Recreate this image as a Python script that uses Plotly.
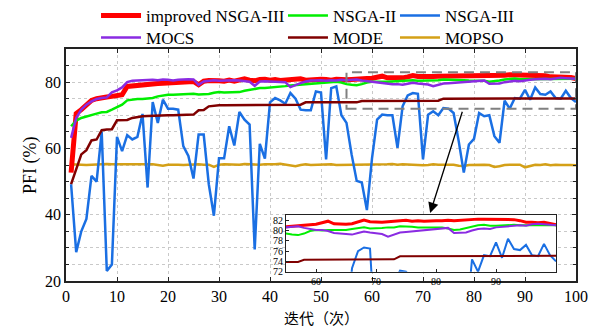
import plotly.graph_objects as go

# ---------------- data ----------------
iters = list(range(1, 101))

improved_nsga3 = [52.7, 70.5, 71.7, 73.2, 74.5, 75.0, 75.4, 75.5, 75.7, 75.9,
                  76.2, 78.7, 78.9, 79.0, 79.2, 79.3, 79.5, 79.6, 79.7, 79.8,
                  79.9, 80.0, 80.0, 80.1, 80.2, 79.2, 80.3, 80.5, 80.3, 80.4,
                  80.3, 80.6, 80.3, 80.5, 81.0, 80.6, 80.4, 80.8, 80.9, 80.6,
                  80.8, 80.5, 80.6, 80.9, 80.7, 81.0, 80.6, 80.8, 80.7, 80.9,
                  80.8, 80.6, 80.9, 80.7, 80.7, 80.8, 80.8, 80.9, 81.1, 81.2,
                  81.5, 81.8, 81.3, 81.2, 81.2, 81.3, 81.6, 82.0, 81.7, 81.6,
                  81.6, 81.7, 81.8, 81.8, 82.0, 81.8, 81.9, 81.8, 81.9, 81.9,
                  81.9, 82.0, 81.9, 82.0, 82.1, 82.1, 82.2, 82.2, 82.2, 82.2,
                  82.2, 82.1, 82.1, 81.9, 81.6, 81.6, 81.5, 81.6, 81.4, 81.1]

nsga2 = [66.7, 68.4, 69.2, 69.7, 70.2, 70.5, 70.9, 71.0, 71.7, 72.5,
         73.2, 74.5, 74.8, 74.9, 74.9, 75.0, 75.2, 75.7, 76.0, 76.2,
         76.2, 76.3, 76.2, 76.4, 76.5, 76.3, 76.4, 76.4, 76.8, 77.0,
         76.9, 77.0, 77.0, 77.0, 77.4, 77.7, 78.0, 78.2, 78.2, 78.3,
         78.4, 78.6, 78.8, 79.0, 79.1, 79.3, 79.4, 79.5, 79.6, 79.7,
         79.8, 80.0, 80.1, 79.9, 79.4, 79.2, 79.1, 79.4, 79.9, 80.1,
         80.0, 80.1, 80.1, 80.2, 80.1, 80.3, 80.5, 80.6, 80.4, 80.4,
         80.5, 80.6, 80.6, 80.8, 80.8, 80.7, 80.6, 80.6, 80.5, 80.5,
         80.6, 80.4, 80.1, 80.2, 80.5, 80.8, 81.0, 81.1, 80.9, 80.9,
         81.0, 81.1, 81.1, 81.0, 81.0, 81.0, 81.0, 81.0, 81.0, 81.0]

nsga3 = [49.2, 28.7, 35.0, 38.7, 51.7, 50.0, 65.0, 23.0, 25.0, 63.5,
         59.2, 64.0, 62.7, 63.5, 70.4, 48.2, 74.0, 67.7, 74.7, 72.0,
         72.0, 71.7, 60.7, 57.7, 50.9, 64.2, 64.2, 49.2, 39.7, 57.0,
         57.0, 66.7, 60.9, 71.0, 68.7, 67.2, 29.5, 61.4, 56.9, 73.9,
         75.2, 74.5, 73.5, 76.7, 75.0, 71.7, 71.5, 71.5, 77.2, 76.9,
         56.7, 78.2, 78.7, 70.0, 67.7, 58.2, 50.2, 49.7, 41.4, 57.0,
         68.7, 70.2, 70.0, 70.0, 60.2, 72.7, 76.0, 76.7, 76.5, 56.7,
         70.2, 71.2, 70.0, 72.2, 72.0, 70.7, 62.2, 52.7, 61.2, 62.9,
         70.7, 69.7, 70.0, 63.7, 61.7, 74.4, 72.0, 75.2, 75.0, 77.7,
         74.7, 78.4, 76.4, 76.2, 77.2, 75.2, 75.0, 77.4, 75.2, 74.0]

mocs = [63.2, 69.2, 71.7, 73.2, 74.2, 74.9, 75.2, 75.4, 76.9, 77.5,
        78.4, 80.0, 80.4, 80.5, 80.6, 80.7, 80.7, 80.6, 80.8, 80.7,
        80.5, 80.7, 80.9, 80.9, 80.8, 79.2, 80.2, 80.5, 80.6, 80.4,
        80.5, 80.4, 80.6, 80.5, 80.3, 80.1, 78.9, 80.2, 80.3, 80.2,
        80.3, 80.1, 80.0, 78.5, 79.2, 79.7, 80.2, 80.5, 80.5, 80.6,
        80.4, 80.6, 80.5, 80.7, 80.6, 80.7, 80.8, 80.5, 80.3, 80.1,
        80.1, 79.9, 79.5, 79.4, 79.4, 79.2, 79.5, 79.8, 79.6, 79.5,
        79.3, 78.8, 79.2, 79.6, 79.7, 79.8, 80.0, 80.1, 80.2, 80.3,
        80.4, 80.5, 79.5, 79.5, 79.6, 80.0, 80.3, 80.4, 80.3, 80.6,
        80.7, 80.9, 81.0, 81.0, 80.9, 81.2, 81.3, 81.2, 81.1, 81.0]

mode = [49.2, 53.7, 58.2, 59.5, 62.4, 62.7, 65.5, 65.7, 65.8, 68.5,
        68.5, 68.6, 69.2, 69.5, 69.7, 69.8, 69.9, 69.9, 69.9, 70.0,
        70.0, 70.0, 70.0, 70.1, 70.2, 71.5, 71.6, 72.7, 72.9, 73.0,
        73.0, 73.0, 73.0, 73.1, 73.1, 73.1, 73.1, 73.1, 73.1, 73.1,
        73.1, 73.2, 73.2, 73.2, 73.2, 73.2, 73.9, 73.9, 73.9, 73.9,
        73.9, 73.9, 73.9, 73.9, 73.9, 73.9, 73.9, 74.3, 74.3, 74.3,
        74.3, 74.3, 74.3, 74.3, 74.3, 74.3, 74.3, 74.3, 74.3, 74.3,
        74.3, 74.3, 74.4, 75.0, 75.0, 75.0, 75.0, 75.0, 75.0, 75.0,
        75.0, 75.0, 75.0, 75.1, 75.1, 75.1, 75.1, 75.1, 75.1, 75.1,
        75.1, 75.1, 75.1, 75.1, 75.1, 75.1, 75.1, 75.1, 75.1, 75.1]

mopso = [55.2, 55.1, 55.2, 55.0, 55.1, 55.2, 55.1, 55.3, 55.2, 55.2,
         55.1, 55.2, 55.1, 55.2, 55.3, 55.1, 55.2, 55.0, 54.8, 55.1,
         55.2, 55.1, 55.0, 55.1, 55.0, 55.2, 55.1, 55.1, 54.4, 55.1,
         55.2, 55.1, 55.2, 55.1, 55.3, 55.2, 55.0, 55.1, 55.2, 55.1,
         55.2, 55.4, 55.1, 54.8, 54.6, 55.0, 55.2, 55.0, 55.1, 55.2,
         55.1, 55.2, 55.0, 55.0, 55.1, 55.0, 55.1, 55.2, 55.1, 55.0,
         55.2, 55.1, 55.2, 55.3, 55.1, 55.2, 55.1, 55.0, 55.1, 54.9,
         55.0, 55.2, 55.1, 55.1, 55.2, 55.1, 54.8, 54.7, 55.0, 55.1,
         55.2, 55.1, 55.0, 54.4, 54.6, 55.0, 55.1, 55.0, 55.1, 54.3,
         54.8, 55.1, 55.0, 55.2, 54.9, 55.1, 55.0, 55.1, 55.0, 54.9]

main_x_range = [0, 100]
main_y_range = [20, 90]
inset_x_range = [55, 100]
inset_y_range = [72, 83]
inset_x_ticks = [60, 70, 80, 90]
inset_y_ticks = [72, 74, 76, 78, 80, 82]
x_title = "迭代（次）"
y_title = "PFI (%)"

# ---------------- styling ----------------
SERIF = "Liberation Serif"
COL_X = [0.1603, 0.4724, 0.6594]
ROW_Y = [0.951, 0.884]
series = [
    # name, data, color, main width, inset width, legend id, legend x, legend y
    ("MOPSO", mopso, "#d4a017", 2.5, 2, "legend6", COL_X[2], ROW_Y[1]),
    ("NSGA-III", nsga3, "#1a6fe3", 2.5, 2, "legend3", COL_X[2], ROW_Y[0]),
    ("MODE", mode, "#800000", 2.5, 2, "legend5", COL_X[1], ROW_Y[1]),
    ("improved NSGA-III", improved_nsga3, "#ff0000", 5, 3, "legend", COL_X[0], ROW_Y[0]),
    ("NSGA-II", nsga2, "#00ee00", 2.5, 2, "legend2", COL_X[1], ROW_Y[0]),
    ("MOCS", mocs, "#8a2be2", 2.5, 2, "legend4", COL_X[0], ROW_Y[1]),
]

fig = go.Figure()
legend_layouts = {}
for name, data, color, w_main, w_in, leg, lx, ly in series:
    fig.add_trace(go.Scatter(x=iters, y=data, mode="lines", name=name,
                             line=dict(color=color, width=w_main),
                             legend=leg, xaxis="x", yaxis="y"))
    legend_layouts[leg] = dict(x=lx, y=ly, xref="container", yref="container",
                               xanchor="left", yanchor="middle",
                               bgcolor="rgba(0,0,0,0)", itemwidth=40,
                               font=dict(family=SERIF, size=17, color="black"))

# inset copies (no legend)
for name, data, color, w_main, w_in, leg, lx, ly in series:
    fig.add_trace(go.Scatter(x=iters, y=data, mode="lines", name=name,
                             line=dict(color=color, width=w_in),
                             showlegend=False, xaxis="x2", yaxis="y2"))

grid_col = "#c9c9c9"
fig.update_layout(
    width=599, height=328,
    margin=dict(l=66, r=23, t=49, b=47, autoexpand=False),
    paper_bgcolor="white", plot_bgcolor="white",
    font=dict(family=SERIF, size=16, color="black"),
    xaxis=dict(range=main_x_range, dtick=10, tick0=0,
               showline=True, linecolor="#222", linewidth=1.5, mirror="ticks",
               ticks="inside", ticklen=4, tickcolor="#222",
               showgrid=True, gridcolor=grid_col, griddash="dot", gridwidth=1,
               zeroline=False, automargin=False,
               tickfont=dict(family=SERIF, size=16)),
    yaxis=dict(range=main_y_range, dtick=20, tick0=20,
               showline=True, linecolor="#222", linewidth=1.5, mirror="ticks",
               ticks="inside", ticklen=4, tickcolor="#222",
               showgrid=True, gridcolor=grid_col, griddash="dot", gridwidth=1,
               minor=dict(dtick=5, showgrid=True, gridcolor=grid_col,
                          griddash="dot", ticks="inside", ticklen=3,
                          tickcolor="#222"),
               zeroline=False, automargin=False,
               tickfont=dict(family=SERIF, size=16)),
    xaxis2=dict(domain=[0.4314, 0.9608], anchor="y2", range=inset_x_range,
                tickvals=inset_x_ticks, showgrid=False, zeroline=False,
                showline=True, linecolor="#222", linewidth=1, mirror=True,
                ticks="inside", ticklen=3, tickcolor="#222", automargin=False,
                tickfont=dict(family=SERIF, size=10)),
    yaxis2=dict(domain=[0.040, 0.2845], anchor="x2", range=inset_y_range,
                tickvals=inset_y_ticks, showgrid=False, zeroline=False,
                showline=True, linecolor="#222", linewidth=1, mirror=True,
                ticks="inside", ticklen=3, tickcolor="#222", automargin=False,
                tickfont=dict(family=SERIF, size=10)),
    showlegend=True,
    **legend_layouts,
)

# axis titles as annotations (fixed placement)
fig.add_annotation(text=y_title, xref="paper", yref="paper", x=-0.0706, y=0.5,
                   xanchor="center", yanchor="middle", textangle=-90,
                   showarrow=False, font=dict(family=SERIF, size=18))
fig.add_annotation(text=x_title, xref="paper", yref="paper", x=0.5, y=-0.156,
                   xanchor="center", yanchor="middle", showarrow=False,
                   font=dict(family="Noto Sans CJK SC", size=15))

# white background for inset (drawn in inset subplot layer)
fig.add_shape(type="rect", xref="x2 domain", yref="y2 domain",
              x0=0, x1=1, y0=0, y1=1, fillcolor="white",
              line=dict(width=0), layer="below")

# dashed zoom rectangle on main axes
fig.add_shape(type="rect", xref="x", yref="y",
              x0=inset_x_range[0], x1=inset_x_range[1],
              y0=inset_y_range[0], y1=inset_y_range[1],
              line=dict(color="#808080", width=2, dash="10px,6px"),
              fillcolor="rgba(0,0,0,0)", layer="above")

# arrow from zoom box to inset
fig.add_annotation(x=71.4, y=40.5, ax=77.8, ay=71.5,
                   xref="x", yref="y", axref="x", ayref="y",
                   showarrow=True, arrowhead=2, arrowsize=1.6,
                   arrowwidth=1.3, arrowcolor="black", text="")

fig.write_html("out.html")
